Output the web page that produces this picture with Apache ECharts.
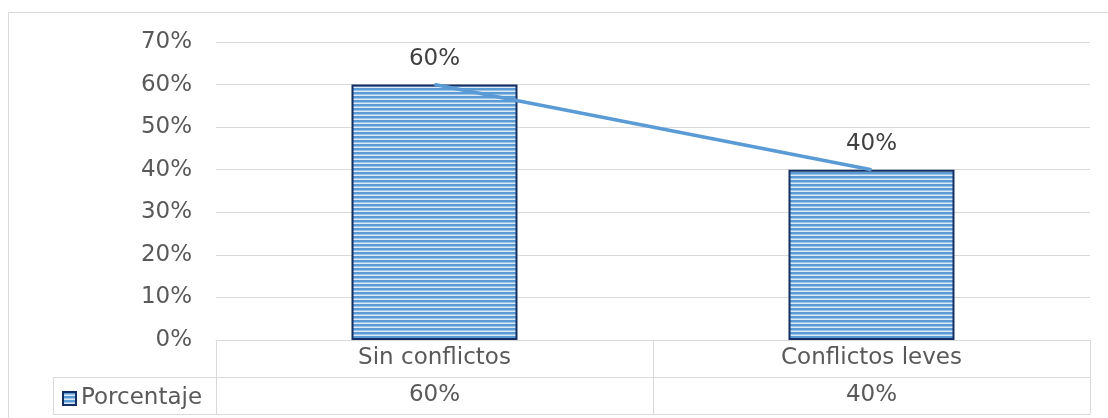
<!DOCTYPE html>
<html>
<head>
<meta charset="utf-8">
<script src="https://cdn.jsdelivr.net/npm/echarts@6/dist/echarts.min.js"></script>
<style>
html,body{margin:0;padding:0;background:#fff;}
#c{width:1108px;height:418px;}
</style>
</head>
<body>
<div id="c"></div>
<script>
// ---- data ----
var categories = ['Sin conflictos', 'Conflictos leves'];
var porcentaje = [60, 40];
var seriesName = 'Porcentaje';
var yTicks = [0, 10, 20, 30, 40, 50, 60, 70];

// ---- styles ----
var FONT = 'DejaVu Sans';
var TXT = '#595959';
var GRIDC = '#D9D9D9';

function stripePattern() {
  var cv = document.createElement('canvas');
  cv.width = 8; cv.height = 4;
  var g = cv.getContext('2d');
  g.fillStyle = '#5B9BD5'; g.fillRect(0, 0, 8, 2);
  g.fillStyle = '#9DC3E6'; g.fillRect(0, 2, 8, 1);
  g.fillStyle = '#DCEAF7'; g.fillRect(0, 3, 8, 1);
  return cv;
}
var pat = { image: stripePattern(), repeat: 'repeat' };

var chart = echarts.init(document.getElementById('c'));
var rowH = 37;

var option = {
  animation: false,
  backgroundColor: '#fff',
  textStyle: { fontFamily: FONT },
  grid: { left: 216, right: 18, top: 42, bottom: 78 },
  legend: {
    data: [seriesName],
    left: 62, top: 388, padding: 0,
    icon: 'rect', itemWidth: 13, itemHeight: 13, itemGap: 5,
    textStyle: { fontFamily: FONT, fontSize: 23, color: TXT, padding: [0, 0, 0, 0] }
  },
  xAxis: [
    {
      type: 'category', data: categories, position: 'bottom',
      axisLine: { show: true, lineStyle: { color: GRIDC, width: 1 } },
      axisTick: { show: true, length: rowH * 2, interval: 0, lineStyle: { color: GRIDC, width: 1 } },
      axisLabel: { fontFamily: FONT, fontSize: 23, color: TXT, margin: 7, interval: 0 }
    },
    {
      type: 'category', data: categories, position: 'bottom', offset: rowH,
      axisLine: { show: true, lineStyle: { color: GRIDC, width: 1 } },
      axisTick: { show: false },
      axisLabel: {
        fontFamily: FONT, fontSize: 23, color: TXT, margin: 7, interval: 0,
        formatter: function (v, i) { return porcentaje[i] + '%'; }
      }
    },
    {
      type: 'category', data: categories, position: 'bottom', offset: rowH * 2,
      axisLine: { show: true, lineStyle: { color: GRIDC, width: 1 } },
      axisTick: { show: false },
      axisLabel: { show: false }
    }
  ],
  yAxis: {
    type: 'value', min: yTicks[0], max: yTicks[yTicks.length - 1], interval: 10,
    axisLine: { show: false }, axisTick: { show: false },
    splitLine: { lineStyle: { color: GRIDC, width: 1 } },
    axisLabel: { fontFamily: FONT, fontSize: 23, color: TXT, margin: 24, formatter: '{value}%' }
  },
  series: [
    {
      name: seriesName, type: 'bar', data: porcentaje, barWidth: 166, xAxisIndex: 0,
      itemStyle: { color: pat, borderColor: '#132F63', borderWidth: 2 },
      label: { show: true, position: 'top', distance: 14, fontFamily: FONT, fontSize: 23, color: '#404040',
        formatter: function (p) { return p.value + '%'; } },
      z: 2
    },
    {
      name: 'Tendencia', type: 'line', data: porcentaje, xAxisIndex: 0,
      symbol: 'none', lineStyle: { color: '#5B9BD5', width: 3.5 }, z: 3, silent: true
    }
  ]
};
chart.setOption(option);

var y0 = Math.round(chart.convertToPixel({ yAxisIndex: 0 }, yTicks[0]));
var xLeft = Math.round(chart.convertToPixel({ xAxisIndex: 0 }, categories[0]) - (chart.convertToPixel({ xAxisIndex: 0 }, categories[1]) - chart.convertToPixel({ xAxisIndex: 0 }, categories[0])) / 2);
var legX = 53;
var ls = { stroke: GRIDC, lineWidth: 1 };
chart.setOption({
  legend: { top: y0 + rowH + 10 },
  graphic: [
    { type: 'rect', shape: { x: 8.5, y: 12.5, width: 1300, height: 600 }, style: { fill: null, stroke: GRIDC, lineWidth: 1 }, silent: true, z: -1 },
    { type: 'line', shape: { x1: legX + 0.5, y1: y0 + rowH + 0.5, x2: xLeft, y2: y0 + rowH + 0.5 }, style: ls },
    { type: 'line', shape: { x1: legX + 0.5, y1: y0 + 2 * rowH + 0.5, x2: xLeft, y2: y0 + 2 * rowH + 0.5 }, style: ls },
    { type: 'line', shape: { x1: legX + 0.5, y1: y0 + rowH + 0.5, x2: legX + 0.5, y2: y0 + 2 * rowH + 0.5 }, style: ls }
  ]
});
</script>
</body>
</html>
